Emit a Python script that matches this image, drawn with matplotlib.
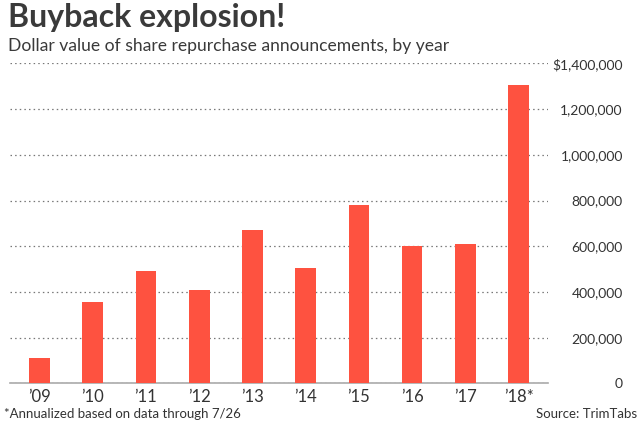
import matplotlib.pyplot as plt
from matplotlib.ticker import FuncFormatter

years = ["\u201909", "\u201910", "\u201911", "\u201912", "\u201913",
         "\u201914", "\u201915", "\u201916", "\u201917", "\u201918*"]
buybacks = [110000, 356000, 492000, 408000, 671000,
            506000, 782000, 602000, 611000, 1304000]
yticks = [0, 200000, 400000, 600000, 800000, 1000000, 1200000, 1400000]

plt.rcParams['font.family'] = ['Lato', 'DejaVu Sans']


def fmt(v, pos):
    s = f"{int(v):,}"
    return "$" + s if v == 1400000 else s


def main():
    fig = plt.figure(figsize=(6.4, 4.28), dpi=100)
    ax = fig.add_axes([0.016, 0.104, 0.84, 0.748])

    x = range(len(years))
    ax.bar(x, buybacks, width=0.39, color="#fe5240", zorder=3)

    ax.set_ylim(0, 1400000)
    ax.set_xlim(-0.55, 9.55)
    ax.set_yticks(yticks)
    ax.yaxis.set_major_formatter(FuncFormatter(fmt))
    ax.yaxis.tick_right()
    ax.tick_params(axis='y', length=0, pad=54, labelsize=10, colors="#333333")
    for lab in ax.get_yticklabels():
        lab.set_horizontalalignment('right')
    ax.set_xticks(list(x))
    ax.set_xticklabels(years)
    ax.tick_params(axis='x', length=0, pad=4, labelsize=12, colors="#333333")

    ax.grid(axis='y', linestyle=(0, (1.2, 2.5)), color="#777777", linewidth=0.9, zorder=0)
    for sp in ["top", "right", "left"]:
        ax.spines[sp].set_visible(False)
    ax.spines["bottom"].set_color("#aaaaaa")
    ax.spines["bottom"].set_linewidth(1.2)

    fig.text(0.012, 0.958, "Buyback explosion!", fontsize=23, fontweight="bold",
             color="#3a3a3a", va="center")
    fig.text(0.012, 0.893, "Dollar value of share repurchase announcements, by year",
             fontsize=12.65, color="#3a3a3a", va="center")
    fig.text(0.006, 0.033, "*Annualized based on data through 7/26",
             fontsize=9.5, color="#333333", va="center")
    fig.text(0.995, 0.033, "Source: TrimTabs", fontsize=9.5, color="#333333",
             va="center", ha="right")

    plt.savefig("out.png", dpi=100)


if __name__ == "__main__":
    main()
